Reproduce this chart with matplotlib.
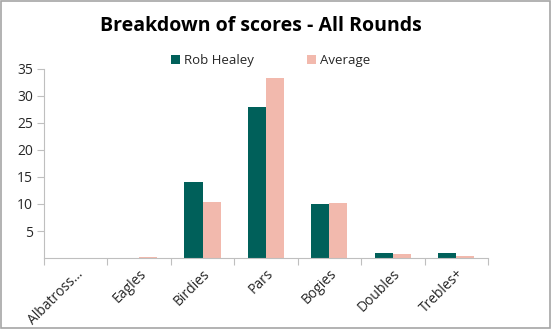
import numpy as np
import matplotlib.pyplot as plt
from matplotlib.patches import Rectangle

# Score categories and counts per round type
categories = ['Albatross…', 'Eagles', 'Birdies', 'Pars', 'Bogies', 'Doubles', 'Trebles+']
rob_healey = [0, 0, 14, 28, 10, 1, 1]
average = [0, 0.2, 10.3, 33.3, 10.2, 0.8, 0.3]

teal = '#00605A'
pink = '#F2B9AD'
grid_grey = '#BFBFBF'

plt.rcParams['font.family'] = ['Open Sans', 'DejaVu Sans']

fig = plt.figure(figsize=(5.52, 3.29), dpi=100)
ax = fig.add_axes([0.0797, 0.2158, 0.8043, 0.5745])

x = np.arange(len(categories))
width = 0.285
ax.bar(x - width / 2, rob_healey, width, color=teal, label='Rob Healey')
ax.bar(x + width / 2, average, width, color=pink, label='Average')

ax.set_xlim(-0.5, len(categories) - 0.5)
ax.set_ylim(0, 35)
ax.set_yticks([5, 10, 15, 20, 25, 30, 35])

# Ticks sit between categories, labels under the category centres
ax.set_xticks(np.arange(-0.5, len(categories), 1.0))
ax.set_xticklabels([])
ax.set_xticks(x, minor=True)
ax.set_xticklabels(categories, minor=True, rotation=45, ha='right',
                   rotation_mode='anchor', fontsize=10, color='#262626')
ax.tick_params(axis='x', which='minor', length=0, pad=6)
ax.tick_params(axis='x', which='major', length=5, color=grid_grey, width=0.8)
ax.tick_params(axis='y', length=5, color=grid_grey, width=0.8,
               labelsize=10, labelcolor='#262626', pad=3)

for side in ['top', 'right']:
    ax.spines[side].set_visible(False)
for side in ['left', 'bottom']:
    ax.spines[side].set_color(grid_grey)
    ax.spines[side].set_linewidth(0.8)

fig.text(0.473, 0.922, 'Breakdown of scores - All Rounds', ha='center', va='center',
         fontsize=14, fontweight='bold', color='black')

fig.legend(loc='center', bbox_to_anchor=(0.49, 0.815), ncol=2, frameon=False,
           fontsize=9.5, handlelength=0.7, handleheight=0.7, columnspacing=4.0,
           handletextpad=0.3, labelcolor='#262626')

# Chart frame
fig.patches.append(Rectangle((0.002, 0.003), 0.995, 0.994, transform=fig.transFigure,
                             fill=False, edgecolor='#A6A6A6', linewidth=1.2))

fig.savefig('out.png', dpi=100)
